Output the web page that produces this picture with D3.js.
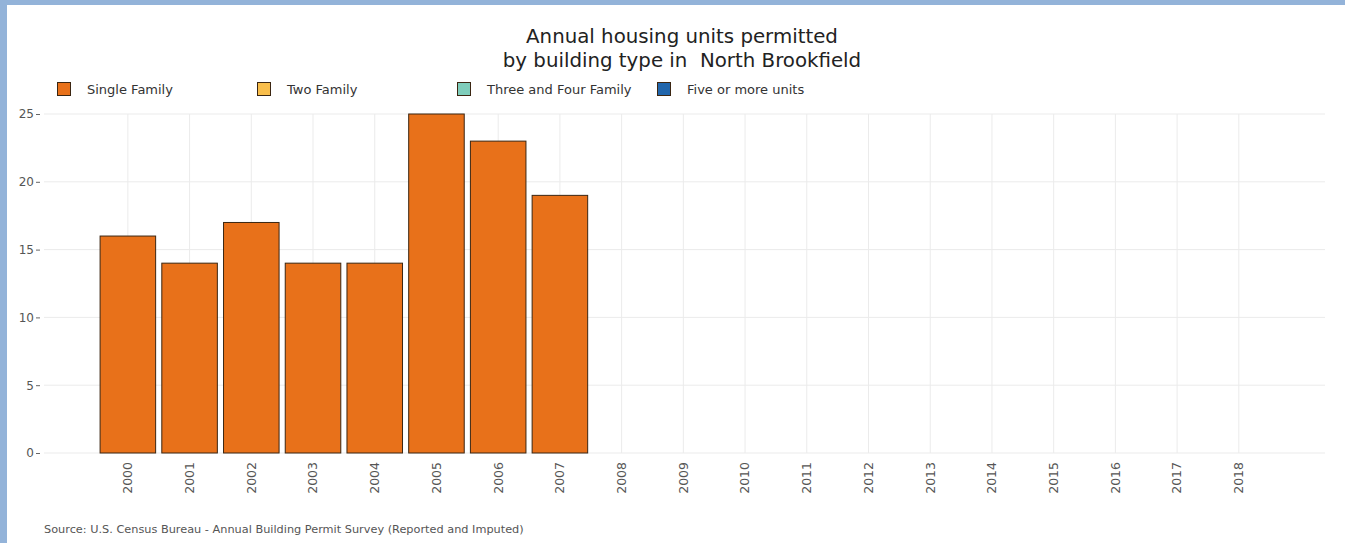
<!DOCTYPE html>
<html>
<head>
<meta charset="utf-8">
<script src="https://cdn.jsdelivr.net/npm/d3@7"></script>
<style>
  html, body { margin: 0; padding: 0; background: #fff; }
  svg { display: block; }
</style>
</head>
<body>
<svg id="chart" width="1345" height="543"></svg>
<script>
const years = ["2000","2001","2002","2003","2004","2005","2006","2007","2008","2009","2010","2011","2012","2013","2014","2015","2016","2017","2018"];
const singleFamily = [16, 14, 17, 14, 14, 25, 23, 19];
const seriesNames = ["Single Family", "Two Family", "Three and Four Family", "Five or more units"];
const seriesColors = ["#E8711A", "#F9BE4B", "#7FCDBB", "#2166AC"];
const yTicks = [0, 5, 10, 15, 20, 25];
const titleLines = ["Annual housing units permitted", "by building type in  North Brookfield"];
const sourceText = "Source: U.S. Census Bureau - Annual Building Permit Survey (Reported and Imputed)";

const svg = d3.select("#chart");
const W = 1345, H = 543;
const font = "'DejaVu Sans', Verdana, sans-serif";

// frame
svg.append("rect").attr("x", 0).attr("y", 0).attr("width", W).attr("height", H).attr("fill", "#93b3d9");
svg.append("rect").attr("x", 7).attr("y", 5).attr("width", W - 7).attr("height", H - 5).attr("fill", "#fff");

const plotRight = 1325, plotTop = 114, plotBottom = 453;
const x = d3.scaleBand().domain(years).range([97, 97 + 19 * 61.72]).paddingInner(0.1).paddingOuter(0.05);
const y = d3.scaleLinear().domain([0, 25]).range([plotBottom, plotTop]);

// grid
svg.append("g").selectAll("line.h").data(yTicks).join("line")
  .attr("x1", 44).attr("x2", plotRight)
  .attr("y1", d => y(d)).attr("y2", d => y(d))
  .attr("stroke", "#ebebeb").attr("stroke-width", 1);
svg.append("g").selectAll("line.v").data(years).join("line")
  .attr("x1", d => x(d) + x.bandwidth() / 2).attr("x2", d => x(d) + x.bandwidth() / 2)
  .attr("y1", plotTop).attr("y2", plotBottom)
  .attr("stroke", "#ebebeb").attr("stroke-width", 1);

// bars
const data = singleFamily.map((v, i) => ({ year: years[i], value: v }));
svg.append("g").selectAll("rect").data(data).join("rect")
  .attr("x", d => x(d.year)).attr("width", x.bandwidth())
  .attr("y", d => y(d.value)).attr("height", d => y(0) - y(d.value))
  .attr("fill", seriesColors[0]).attr("stroke", "#3b2612").attr("stroke-width", 1);

// y axis
const yAxis = svg.append("g").attr("transform", "translate(40,0)")
  .call(d3.axisLeft(y).tickValues(yTicks).tickSize(4).tickPadding(2));
yAxis.select(".domain").remove();
yAxis.selectAll(".tick line").attr("stroke", "#666");
yAxis.selectAll("text").attr("fill", "#555").style("font-family", font).style("font-size", "12px");

// x axis labels
const xAxis = svg.append("g").attr("transform", `translate(0,${plotBottom})`)
  .call(d3.axisBottom(x).tickSize(0).tickPadding(0));
xAxis.select(".domain").remove();
xAxis.selectAll("text")
  .attr("transform", "rotate(-90)")
  .attr("x", -9).attr("y", 0).attr("dy", "0.35em")
  .style("text-anchor", "end")
  .attr("fill", "#555").style("font-family", font).style("font-size", "12.5px");

// title
svg.append("g").selectAll("text").data(titleLines).join("text")
  .attr("x", 682).attr("y", (d, i) => 43 + i * 24)
  .attr("text-anchor", "middle").attr("fill", "#222")
  .style("white-space", "pre")
  .style("font-family", font).style("font-size", "19.8px")
  .text(d => d);

// legend
const leg = svg.append("g").selectAll("g").data(seriesNames).join("g")
  .attr("transform", (d, i) => `translate(${57 + i * 200},82)`);
leg.append("rect").attr("x", 0.5).attr("y", 0.5).attr("width", 13).attr("height", 13)
  .attr("fill", (d, i) => seriesColors[i]).attr("stroke", "#3b2612").attr("stroke-width", 1);
leg.append("text").attr("x", 30).attr("y", 7).attr("dy", "0.35em")
  .attr("fill", "#333").style("font-family", font).style("font-size", "13px")
  .text(d => d);

// source
svg.append("text").attr("x", 44).attr("y", 533)
  .attr("fill", "#555").style("font-family", font).style("font-size", "11.3px")
  .text(sourceText);
</script>
</body>
</html>
